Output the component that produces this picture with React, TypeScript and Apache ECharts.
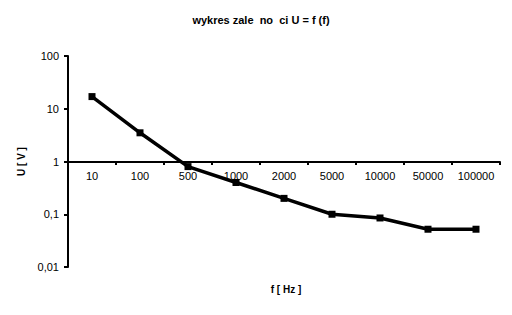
import React, { useEffect, useRef } from "react";
import * as echarts from "echarts";

const categories = ["10", "100", "500", "1000", "2000", "5000", "10000", "50000", "100000"];
const voltage = [17, 3.5, 0.8, 0.4, 0.2, 0.1, 0.085, 0.052, 0.052];
const yTickValues = [0.01, 0.1, 1, 10, 100];

const FONT = "Liberation Sans, Arial, sans-serif";

export default function App() {
  const ref = useRef<HTMLDivElement>(null);
  useEffect(() => {
    if (!ref.current) return;
    const chart = echarts.init(ref.current, null, { renderer: "svg" });
    chart.setOption({
      animation: false,
      backgroundColor: "#ffffff",
      title: {
        text: "wykres zale  no  ci U = f (f)",
        left: 256,
        top: 9,
        textAlign: "center",
        textStyle: { fontFamily: FONT, fontSize: 11, fontWeight: "bold", color: "#000" },
      },
      grid: { left: 68, right: 12, top: 56, bottom: 48 },
      graphic: [
        {
          type: "text",
          x: 286,
          y: 289,
          style: {
            text: "f [ Hz ]",
            font: "bold 10px " + FONT,
            fill: "#000",
            textAlign: "center",
            textVerticalAlign: "middle",
          },
        },
      ],
      xAxis: {
        type: "category",
        data: categories,
        boundaryGap: true,
        offset: -105,
        axisLine: { lineStyle: { color: "#000", width: 2 } },
        axisTick: { show: true, length: 3, lineStyle: { color: "#000", width: 2 } },
        axisLabel: { color: "#000", fontFamily: FONT, fontSize: 11, margin: 8, interval: 0 },
        splitLine: { show: false },
      },
      yAxis: {
        type: "log",
        logBase: 10,
        min: 0.01,
        max: 100,
        name: "U [ V ]",
        nameLocation: "middle",
        nameGap: 42,
        nameRotate: 90,
        nameTextStyle: { fontFamily: FONT, fontSize: 10, fontWeight: "bold", color: "#000" },
        axisLine: { show: true, lineStyle: { color: "#000", width: 2 } },
        axisTick: { show: true, length: 4, lineStyle: { color: "#000", width: 2 } },
        axisLabel: {
          color: "#000",
          fontFamily: FONT,
          fontSize: 11,
          margin: 9,
          formatter: (v: number) => {
            const match = yTickValues.find((t) => Math.abs(t - v) / t < 1e-6);
            return String(match ?? v).replace(".", ",");
          },
        },
        splitLine: { show: false },
      },
      series: [
        {
          type: "line",
          data: voltage,
          symbol: "rect",
          symbolSize: 7,
          lineStyle: { color: "#000", width: 3.5 },
          itemStyle: { color: "#000" },
        },
      ],
    });
    return () => chart.dispose();
  }, []);
  return <div ref={ref} style={{ position: "fixed", left: 0, top: 0, width: 512, height: 315 }} />;
}
